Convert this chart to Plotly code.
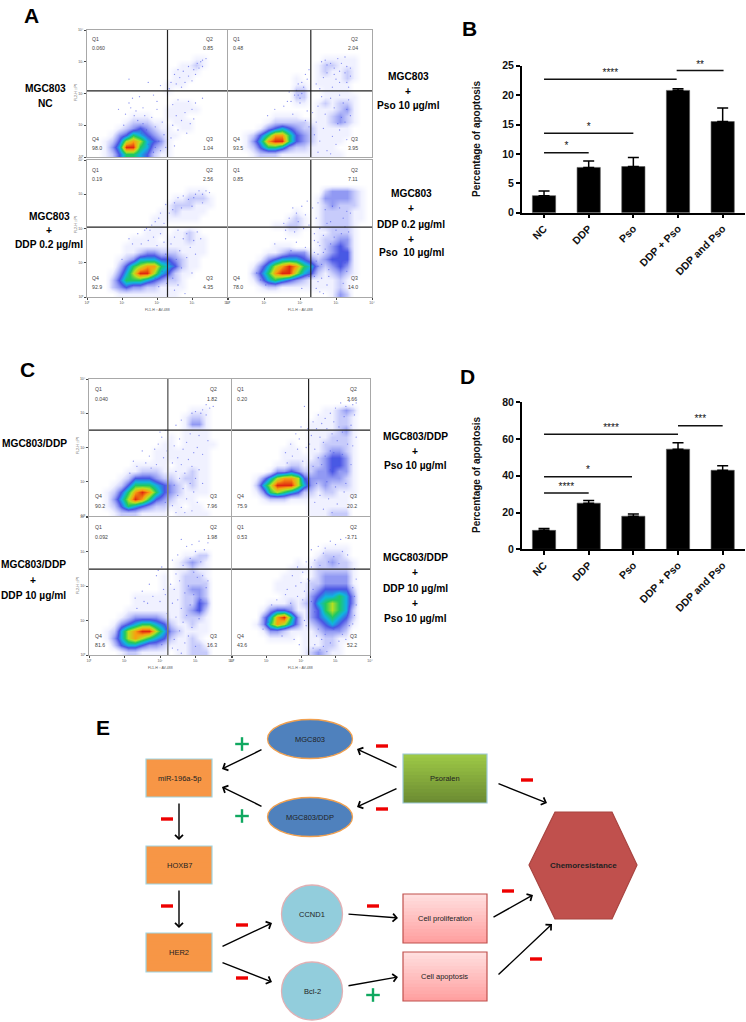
"""
plot.py - composite figure: flow cytometry panels (A, C), apoptosis bars (B, D), pathway diagram (E).
Everything is placed on a 746x1022 page, positions are given in page pixels.
"""

import plotly.graph_objects as go

W, H = 746, 1022

# ---- bar chart data ----
BAR_LABELS = ["NC", "DDP", "Pso", "DDP + Pso", "DDP and Pso"]
bars_b = [2.9, 7.7, 7.85, 20.8, 15.5]
err_b = [0.8, 1.1, 1.55, 0.3, 2.3]
bars_d = [10.3, 25.1, 18.0, 54.5, 43.0]
err_d = [1.0, 1.4, 1.2, 3.5, 2.5]

# significance lines: start, end, height, stars
sig_b_start = [0, 0, 0, 2.97]
sig_b_end = [1, 2, 2.97, 4.02]
sig_b_level = [10.2, 13.5, 22.7, 24.2]
sig_b_stars = ["*", "*", "****", "**"]
sig_d_start = [0, 0, 0, 3.0]
sig_d_end = [1, 1.97, 3.0, 4.0]
sig_d_level = [30.7, 39.5, 62.6, 67.3]
sig_d_stars = ["****", "*", "****", "***"]

# ---- flow cytometry data ----
# quadrant values per plot: Q1, Q2, Q3, Q4
quad_a1 = ["0.060", "0.85", "1.04", "98.0"]
quad_a2 = ["0.48", "2.04", "3.95", "93.5"]
quad_a3 = ["0.19", "2.56", "4.35", "92.9"]
quad_a4 = ["0.85", "7.11", "14.0", "78.0"]
quad_c1 = ["0.040", "1.82", "7.96", "90.2"]
quad_c2 = ["0.20", "3.66", "20.2", "75.9"]
quad_c3 = ["0.092", "1.98", "16.3", "81.6"]
quad_c4 = ["0.53", "3.71", "52.2", "43.6"]

# gate positions on the log axes (decades): x gate, y gate
gate_a_top = [2.3, 2.08]
gate_a_bottom = [2.3, 2.04]
gate_c_top = [2.22, 2.51]
gate_c_bottom = [2.22, 2.49]

# density read by eye on a 20x20 grid, first row is the top of the plot (0 empty, 9 red core)
EMPTY = "00000000000000000000"
density_a1 = [
    EMPTY, EMPTY, EMPTY, EMPTY,
    "00000000000000011000",
    "00000000000001121000",
    "00000000000011110000",
    "00000000000011100000",
    "00000000000111000000",
    "00000000000100000000",
    EMPTY,
    "00000000000011100000",
    "00000000000111110000",
    "00000011100111000000",
    "00000122211011100000",
    "00001234321101100000",
    "00013465432110000000",
    "00124787543100000000",
    "00135996532100000000",
    "00124665421100000000",
]
density_a2 = [
    EMPTY, EMPTY, EMPTY, EMPTY,
    "00000000000001111100",
    "00000000000012211100",
    "00000000000012112100",
    "00000000010011112100",
    "00000000011011111000",
    "00000000022001111000",
    "00000000022001111100",
    "00000000011012122100",
    "00000000000011123100",
    "00000011110011232100",
    "00000122222111232100",
    "00001345432211111000",
    "00124688643211111000",
    "00135899643211110000",
    "00124665322111100000",
    "00012221111111110000",
]
density_a3 = [
    EMPTY, EMPTY, EMPTY, EMPTY,
    "00000000000000111000",
    "00000000000011222100",
    "00000000000122211100",
    "00000000001121111000",
    "00000000011111110000",
    "00000000011000000000",
    "00000000111011210000",
    "00000011110111211000",
    "00000111111111111000",
    "00000112332221111000",
    "00001235554432110000",
    "00002467886542110000",
    "00013579975421100000",
    "00024666543221000000",
    "00023433221111000000",
    "00001111111110000000",
]
density_a4 = [
    EMPTY, EMPTY, EMPTY, EMPTY,
    "00000000000002333210",
    "00000000000013333210",
    "00000000000012322210",
    "00000000010012222110",
    "00000000121012222110",
    "00000011221012222100",
    "00000000110011222100",
    "00000000000012233100",
    "00000011100012343100",
    "00000112333112344100",
    "00001345554323444100",
    "00013578986532343100",
    "00024689975421232100",
    "00013565432111121000",
    "00001221111111121000",
    "00000000000000132000",
]
density_c1 = [
    EMPTY, EMPTY, EMPTY, EMPTY,
    "00000000000000111000",
    "00000000000001221000",
    "00000000000001331000",
    "00000000000001111000",
    "00000000000101111000",
    "00000000001101111100",
    "00000000011111111000",
    "00000000011111111000",
    "00000011111011111000",
    "00000112221111211000",
    "00001244432212211000",
    "00012466654321211000",
    "00124689864321111000",
    "00135798643211100000",
    "00124654322110110000",
    "00012221111011111000",
]
density_c2 = [
    EMPTY, EMPTY, EMPTY, EMPTY,
    "00000000000001123200",
    "00000000000011122100",
    "00000000000111122100",
    "00000000000111123100",
    "00000000000111222100",
    "00000000100112222100",
    "00000001110112332100",
    "00000001111123443100",
    "00000011221223443100",
    "00000133432233433100",
    "00013578874333332100",
    "00025799975323222100",
    "00013676542212211100",
    "00001222111111111000",
    "00000000000111111000",
    "00000000000111222000",
]
density_c3 = [
    EMPTY, EMPTY, EMPTY, EMPTY, EMPTY,
    "00000000000001122000",
    "00000000000012321000",
    "00000000000011211000",
    "00000000001012221000",
    "00000000001012222000",
    "00000000001112332000",
    "00000011111112232000",
    "00000011111112243000",
    "00000111111112342000",
    "00001233332112221000",
    "00013456654211211000",
    "00125789975321111000",
    "00135787654211210000",
    "00024554332111221000",
    "00001221111011222000",
]
density_c4 = [
    EMPTY, EMPTY, EMPTY, EMPTY,
    "00000000000001111000",
    "00000000000012221000",
    "00000000010122322100",
    "00000000111122222100",
    "00000001110123333100",
    "00000011111223333100",
    "00000011111234444200",
    "00000001111345565300",
    "00000111212356765300",
    "00001344311346765200",
    "00003589631345654200",
    "00013687531234543100",
    "00001332111123332000",
    "00000111101112211000",
    "00000000001112210000",
    "00000000001232110000",
]

# single events read by eye outside the dense clouds, in decades
dots_a1_x = [3.4, 3.3, 3.25, 3.15, 3.3, 3.2, 3.05, 2.9, 2.75, 2.6, 2.5, 2.65, 2.9, 3.0, 2.8, 2.55, 2.4, 3.1, 2.7, 2.35,
             2.1, 1.75, 1.2, 3.3, 3.1, 2.9, 2.6, 2.45, 3.0, 2.8, 2.55, 2.7, 3.05, 2.95, 2.45, 2.6, 2.4, 2.85, 2.5,
             1.5, 1.9, 1.2, 1.6, 2.0, 1.35, 1.85, 2.15, 1.95, 2.2, 2.05, 1.75, 2.25, 1.6, 1.4, 2.1, 1.9, 2.0, 0.9, 1.1,
             1.7, 1.8, 1.55, 1.45, 1.25, 1.65, 1.05, 2.3, 1.3, 1.95]
dots_a1_y = [3.1, 3.05, 3.0, 2.95, 2.85, 2.8, 2.75, 2.85, 2.7, 2.75, 2.6, 2.5, 2.55, 2.4, 2.35, 2.3, 2.35, 2.6, 2.2, 2.15,
             2.25, 2.35, 2.45, 1.85, 1.7, 1.75, 1.8, 1.65, 1.5, 1.4, 1.3, 1.15, 1.2, 1.05, 1.0, 0.85, 0.6, 0.75, 0.35,
             1.9, 1.95, 1.7, 1.55, 1.5, 1.3, 1.25, 1.1, 0.95, 0.7, 0.5, 0.4, 0.3, 1.05, 1.45, 0.2, 0.15, 1.75, 1.5, 1.35,
             0.85, 0.65, 0.75, 1.15, 1.55, 1.3, 1.0, 0.55, 1.85, 0.3]
dots_a2_x = [2.6, 2.7, 2.75, 2.85, 2.95, 3.05, 3.15, 3.25, 3.3, 3.4, 2.75, 2.95, 3.1, 3.25, 3.4, 2.65, 3.0, 3.3, 2.45, 2.9,
             3.35, 3.1, 2.55, 2.05, 2.1, 1.9, 2.2, 1.85, 2.0, 1.7, 2.15, 2.25, 1.95, 2.05, 1.75,
             2.6, 2.85, 3.1, 3.35, 2.5, 2.95, 3.2, 3.3, 3.4, 3.15, 2.7, 2.45, 3.05, 3.25, 2.65, 2.4, 2.9, 2.55, 3.0, 2.75, 2.5, 2.85, 3.3,
             2.35, 3.1, 1.3, 1.55, 1.8, 2.0, 2.2, 1.1, 1.95, 2.15, 1.65, 2.25]
dots_a2_y = [3.0, 3.05, 2.9, 2.95, 2.8, 3.1, 2.95, 3.15, 2.85, 2.8, 2.65, 2.6, 2.7, 2.65, 2.55, 2.5, 2.45, 2.35, 2.3, 2.2,
             2.2, 2.35, 2.15, 2.35, 2.2, 2.1, 2.45, 1.95, 1.85, 2.05, 2.6, 2.75, 2.3, 2.0, 1.75,
             1.9, 1.85, 1.95, 1.8, 1.6, 1.55, 1.7, 1.5, 1.3, 1.25, 1.35, 1.1, 1.05, 1.1, 0.9, 0.7, 0.65, 0.5, 0.4, 0.2, 0.15, 0.1, 0.55,
             1.4, 0.85, 1.5, 1.6, 1.35, 1.7, 1.45, 1.3, 1.95, 1.15, 1.75, 0.95]
dots_a3_x = [3.5, 3.4, 3.3, 3.2, 3.1, 3.05, 2.9, 2.75, 2.6, 2.5, 2.45, 3.3, 3.0, 2.7, 2.35, 2.1, 1.95, 2.2, 2.25, 2.05, 1.85, 1.7,
             2.6, 2.85, 3.15, 3.25, 3.05, 2.75, 2.5, 2.95, 2.4, 2.65, 3.1, 2.85, 2.55, 2.4, 2.7, 3.0, 2.45, 2.6, 2.5, 2.8,
             1.2, 1.45, 1.65, 1.9, 2.1, 1.55, 1.75, 2.0, 2.2, 1.3, 1.8, 2.25, 2.15, 1.95, 2.05, 1.0, 2.28, 2.3]
dots_a3_y = [3.05, 3.1, 3.0, 3.1, 3.0, 2.9, 2.85, 2.95, 2.9, 2.75, 2.55, 2.75, 2.65, 2.6, 2.45, 2.45, 2.2, 2.15, 2.7, 2.3, 2.1, 2.0,
             1.95, 1.85, 1.9, 1.7, 1.65, 1.7, 1.75, 1.45, 1.55, 1.35, 1.25, 1.15, 1.1, 0.95, 0.85, 0.7, 0.55, 0.35, 0.2, 0.1,
             1.7, 1.85, 1.95, 1.75, 1.85, 1.55, 1.65, 1.5, 1.6, 1.55, 1.95, 1.25, 0.75, 0.55, 0.3, 1.1, 0.4, 0.08]
dots_a4_x = [2.35, 2.5, 2.7, 2.9, 3.1, 3.3, 2.45, 2.85, 3.2, 3.4, 2.55, 2.75, 3.0, 3.25, 2.4, 2.65, 2.95, 3.15, 3.35, 2.5,
             1.8, 1.9, 2.05, 2.2, 1.7, 1.95, 2.15, 2.25, 1.55, 1.6, 1.85, 2.1,
             2.4, 2.55, 2.7, 2.85, 2.5, 2.65, 2.45, 2.6, 2.8, 3.3, 2.4, 2.5, 2.6, 2.75, 2.45, 2.55, 3.25, 2.65, 2.8, 3.2, 2.4, 2.5,
             1.3, 1.6, 1.9, 2.15, 0.8, 0.9, 1.05, 2.25, 2.05, 1.75]
dots_a4_y = [2.6, 2.75, 2.55, 2.65, 2.6, 2.5, 2.3, 2.2, 2.3, 2.45, 2.0, 2.15, 1.95, 2.05, 1.85, 1.8, 1.75, 1.85, 1.9, 1.6,
             2.6, 2.45, 2.65, 2.8, 2.3, 2.2, 2.4, 2.1, 2.15, 1.95, 1.9, 2.0,
             1.65, 1.5, 1.4, 1.55, 1.25, 1.3, 1.05, 0.95, 0.8, 0.75, 0.6, 0.45, 0.55, 0.35, 0.25, 0.15, 1.0, 0.1, 0.6, 0.4, 1.3, 0.9,
             1.55, 1.7, 1.6, 1.45, 0.7, 0.5, 0.35, 0.6, 0.25, 1.35]
dots_c1_x = [3.5, 3.4, 3.3, 3.2, 3.15, 3.3, 3.0, 2.9, 2.6, 2.45, 2.85, 3.1, 3.35, 2.55, 2.75, 3.05, 2.4, 2.65, 2.95, 3.2, 2.5, 2.8, 2.35,
             2.6, 2.9, 3.1, 2.45, 2.7, 3.0, 2.55, 2.85, 2.4, 2.65, 2.95, 2.5, 2.75, 3.05, 2.35, 2.6, 2.9, 2.45, 3.2, 2.7,
             2.15, 2.05, 1.95, 1.85, 1.7, 1.5, 1.25, 2.1, 1.9, 1.6, 2.2, 1.75, 1.35, 2.0, 2.15, 1.15]
dots_c1_y = [3.2, 3.15, 3.25, 3.1, 3.0, 2.95, 3.05, 3.0, 2.8, 2.65, 2.4, 2.35, 2.2, 2.25, 2.15, 2.0, 2.05, 1.95, 1.85, 1.8, 1.7, 1.65, 1.55,
             1.5, 1.45, 1.35, 1.3, 1.25, 1.1, 1.1, 0.95, 0.9, 0.8, 0.7, 0.6, 0.5, 0.4, 0.3, 0.25, 0.15, 0.1, 0.95, 0.1,
             2.5, 2.3, 2.1, 1.95, 1.75, 1.9, 1.6, 1.7, 1.5, 1.55, 1.9, 1.4, 1.45, 2.45, 0.4, 1.25]
dots_c2_x = [3.6, 3.5, 3.4, 3.3, 3.15, 3.0, 2.85, 2.7, 2.5, 2.35, 3.55, 3.25, 2.95, 2.6, 2.45, 3.45, 3.1, 2.75, 2.3, 2.55, 2.9, 3.2,
             2.25, 3.6, 3.5, 2.4, 2.65, 2.85, 3.05, 3.35, 2.5, 2.7, 2.95, 3.2, 3.45, 2.35, 2.6, 2.85, 3.1, 3.3, 2.45, 2.75, 3.0, 3.25, 2.55, 2.8, 2.4, 3.05, 2.65, 2.9,
             2.1, 2.0, 1.85, 1.7, 1.55, 2.15, 1.95, 1.75, 2.05, 2.2, 1.6, 1.9]
dots_c2_y = [3.3, 3.25, 3.35, 3.2, 3.3, 3.15, 3.0, 2.85, 2.95, 2.75, 2.95, 2.9, 2.75, 2.7, 2.55, 2.65, 2.6, 2.55, 2.35, 2.3, 2.4, 2.45,
             2.1, 2.3, 2.05, 1.95, 2.15, 1.9, 2.2, 2.1, 1.7, 1.75, 1.85, 1.8, 1.5, 1.45, 1.5, 1.35, 1.6, 0.95, 0.95, 1.0, 0.85, 0.7, 0.6, 0.5, 0.4, 0.35, 0.2, 0.1,
             3.2, 2.6, 2.4, 2.1, 1.85, 2.0, 2.25, 1.75, 1.6, 2.55, 1.55, 1.95]
dots_c3_x = [3.35, 3.1, 2.9, 2.75, 2.6, 3.25, 3.0, 2.5, 2.85, 3.15, 2.35, 2.65, 2.45, 2.95, 3.2, 3.35, 2.3, 2.55, 2.8, 3.05, 3.3,
             2.4, 2.7, 2.95, 3.15, 2.5, 2.85, 3.05, 2.35, 2.6, 2.75, 3.1, 2.45, 2.65, 2.9, 2.55, 2.8, 2.4, 2.7, 3.0, 2.5, 2.35, 2.6,
             1.3, 1.5, 1.7, 1.9, 2.1, 1.55, 1.8, 2.0, 2.15, 1.35, 1.65, 1.95, 2.05, 2.2, 2.15, 2.05]
dots_c3_y = [3.25, 3.3, 3.2, 3.15, 3.35, 3.05, 3.0, 2.9, 2.8, 2.7, 2.75, 2.6, 2.35, 2.4, 2.3, 2.15, 2.05, 2.15, 2.0, 2.25, 1.95,
             1.9, 1.8, 1.75, 1.6, 1.6, 1.45, 1.3, 1.5, 1.35, 1.15, 1.05, 1.1, 0.95, 0.8, 0.7, 0.55, 0.45, 0.35, 0.25, 0.15, 0.2, 0.05,
             1.65, 1.85, 2.05, 2.3, 1.9, 1.55, 1.7, 1.55, 1.75, 1.35, 1.5, 2.45, 2.55, 1.2, 0.75, 0.3]
dots_c4_x = [3.3, 3.15, 3.0, 2.85, 2.7, 2.5, 2.3, 3.35, 3.2, 2.95, 2.65, 2.4, 2.55, 2.8, 3.1, 2.3, 2.15, 2.05, 1.9, 1.75, 2.2, 2.0, 1.85, 2.1, 1.6,
             3.55, 3.6, 3.5, 3.55, 3.6, 2.4, 2.35, 2.3, 2.25, 3.55, 3.5, 2.5, 2.7, 2.95, 3.2, 3.4, 2.45, 2.6, 2.85, 3.1, 3.3, 2.35, 2.55, 2.75,
             1.55, 1.3, 1.15, 1.05, 1.7, 1.9, 2.05, 1.45, 1.8, 2.15, 0.9, 1.95, 2.1, 2.4, 2.65]
dots_c4_y = [3.4, 3.35, 3.2, 3.3, 3.1, 3.15, 3.05, 2.9, 3.0, 2.85, 2.95, 2.75, 2.6, 2.7, 2.65, 2.55, 2.7, 2.4, 2.55, 2.3, 2.2, 2.1, 2.0, 1.85, 1.9,
             2.5, 2.2, 1.95, 1.7, 1.45, 1.25, 1.9, 1.55, 2.15, 1.15, 0.9, 0.75, 0.6, 0.75, 0.6, 0.85, 0.55, 0.45, 0.35, 0.4, 0.45, 0.2, 0.15, 0.1,
             1.75, 1.6, 1.45, 0.95, 1.5, 1.7, 1.6, 0.55, 0.45, 0.85, 0.75, 0.3, 1.0, 0.3, 0.25]

TICK_TEXT = ["10⁰", "10¹", "10²", "10³", "10⁴"]
DENSITY_COLORS = [
    [0.0, "#ffffff"], [0.11, "#f0f1ff"], [0.22, "#c8ccfb"], [0.33, "#939bf3"],
    [0.44, "#4a55e4"], [0.56, "#10b4e0"], [0.67, "#20c860"], [0.78, "#b8e020"],
    [0.89, "#f8a010"], [1.0, "#e02810"],
]

FONT = "Liberation Sans"

fig = go.Figure()
shapes = []
annotations = []
layout_axes = {}
axis_count = 0


def fx(x):
    return x / W


def fy(y):
    return 1 - y / H


def text(x, y, s, size=10, bold=False, color="#000000", angle=0, anchor="center"):
    annotations.append(dict(
        text=f"<b>{s}</b>" if bold else s,
        x=fx(x), y=fy(y), xref="paper", yref="paper",
        xanchor=anchor, yanchor="middle", showarrow=False, textangle=angle,
        font=dict(size=size, color=color, family=FONT),
    ))


def new_axes(x0, x1, y0, y1):
    """Creates a pair of axes on the given page pixels and returns the trace references."""
    global axis_count
    axis_count += 1
    n = axis_count
    xname = "xaxis" if n == 1 else f"xaxis{n}"
    yname = "yaxis" if n == 1 else f"yaxis{n}"
    xref = "x" if n == 1 else f"x{n}"
    yref = "y" if n == 1 else f"y{n}"
    layout_axes[xname] = dict(domain=[fx(x0), fx(x1)], anchor=yref)
    layout_axes[yname] = dict(domain=[fy(y1), fy(y0)], anchor=xref)
    return xname, yname, xref, yref


def flow_plot(box, density, dots, gate, quads, label_x, label_y, show_x, show_y, gate_line):
    x0, x1, y0, y1 = box
    xname, yname, xref, yref = new_axes(x0, x1, y0, y1)
    n = len(density)
    centers = [(i + 0.5) * 4 / n for i in range(n)]
    z = [[int(c) for c in row] for row in reversed(density)]
    fig.add_trace(go.Heatmap(
        x=centers, y=centers, z=z, zmin=0, zmax=9, zsmooth="best",
        colorscale=DENSITY_COLORS, showscale=False, hoverinfo="skip",
        xaxis=xref, yaxis=yref,
    ))
    fig.add_trace(go.Scatter(x=dots[0], y=dots[1], mode="markers", hoverinfo="skip",
                             marker=dict(size=1.3, color="#4a56e8", opacity=0.65),
                             xaxis=xref, yaxis=yref))
    # gates
    fig.add_trace(go.Scatter(x=[gate[0], gate[0]], y=[0, 4], mode="lines",
                             line=gate_line, xaxis=xref, yaxis=yref, hoverinfo="skip"))
    fig.add_trace(go.Scatter(x=[0, 4], y=[gate[1], gate[1]], mode="lines",
                             line=dict(color="#222222", width=1.2), xaxis=xref, yaxis=yref,
                             hoverinfo="skip"))
    common = dict(
        range=[0, 4], showgrid=False, zeroline=False, showline=True, mirror=True,
        linecolor="#a8a8a8", linewidth=1, ticklen=2, tickwidth=0.6, tickcolor="#444444",
        tickvals=[0, 1, 2, 3, 4], ticktext=TICK_TEXT,
        tickfont=dict(size=3.5, color="#555555", family=FONT),
    )
    layout_axes[xname].update(common, ticks="outside" if show_x else "", showticklabels=show_x)
    layout_axes[yname].update(common, ticks="outside" if show_y else "", showticklabels=show_y)
    # quadrant labels
    lx0, lx1 = label_x
    ly0, ly1, ly2, ly3 = label_y
    for s, x, y in [("Q1", lx0, ly0), (quads[0], lx0, ly1), ("Q2", lx1, ly0), (quads[1], lx1, ly1),
                    ("Q4", lx0, ly2), (quads[3], lx0, ly3), ("Q3", lx1, ly2), (quads[2], lx1, ly3)]:
        text(x, y, s, size=5.2, color="#444444", anchor="left" if x == lx0 else "right")


def bar_plot(box, values, errors, y_max, y_step, sig_start, sig_end, sig_level, sig_stars, star_dy):
    x0, x1, y0, y1 = box
    xname, yname, xref, yref = new_axes(x0, x1, y0, y1)
    fig.add_trace(go.Bar(
        x=list(range(len(values))), y=values, width=0.52,
        marker=dict(color="#000000", line=dict(color="#555555", width=0.6)),
        error_y=dict(type="data", symmetric=False, array=errors, arrayminus=[0] * len(errors),
                     color="#000000", thickness=1.5, width=5.5),
        xaxis=xref, yaxis=yref,
    ))
    for s, e, lev in zip(sig_start, sig_end, sig_level):
        fig.add_trace(go.Scatter(x=[s, e], y=[lev, lev], mode="lines",
                                 line=dict(color="#111111", width=1.5), xaxis=xref, yaxis=yref))
    # the stars of the top line sit right under the axis end, text points out of range get dropped
    fig.add_trace(go.Scatter(
        x=[(s + e) / 2 for s, e in zip(sig_start, sig_end)],
        y=[min(lev + star_dy, y_max * 0.999) for lev in sig_level],
        text=sig_stars, mode="text", textposition="middle center", cliponaxis=False,
        textfont=dict(size=10, color="#111111", family=FONT), xaxis=xref, yaxis=yref,
    ))
    axis_common = dict(showgrid=False, zeroline=False, showline=True, linecolor="#000000", linewidth=1.5,
                       ticks="outside", ticklen=4, tickwidth=1.5, tickcolor="#000000")
    layout_axes[xname].update(axis_common, range=[-0.5, 4.5], tickvals=list(range(5)), ticktext=BAR_LABELS,
                              tickangle=-45, tickfont=dict(size=10.5, color="#111111", family=FONT, weight="bold"))
    layout_axes[yname].update(axis_common, range=[0, y_max], dtick=y_step,
                              tickfont=dict(size=10.5, color="#111111", family=FONT, weight="bold"))


def flow_block(boxes, all_density, all_dots, all_quads, gates, label_xs, label_ys, left_gate):
    dark = dict(color="#222222", width=1.2)
    for i in range(4):
        gate = gates[0] if i < 2 else gates[1]
        flow_plot(boxes[i], all_density[i], all_dots[i], gate, all_quads[i], label_xs[i % 2],
                  label_ys[0] if i < 2 else label_ys[1], show_x=i >= 2, show_y=i % 2 == 0,
                  gate_line=left_gate if i % 2 == 0 else dark)


# ---- panels A and C ----
flow_block(
    [(87, 227, 30, 157), (228, 372, 30, 157), (87, 227, 160, 297), (228, 372, 160, 297)],
    [density_a1, density_a2, density_a3, density_a4],
    [(dots_a1_x, dots_a1_y), (dots_a2_x, dots_a2_y), (dots_a3_x, dots_a3_y), (dots_a4_x, dots_a4_y)],
    [quad_a1, quad_a2, quad_a3, quad_a4],
    [gate_a_top, gate_a_bottom],
    [(90, 215), (231, 360)],
    [(39, 48, 139, 148), (170, 179, 278, 287)],
    dict(color="#222222", width=1.2),
)
flow_block(
    [(89, 231, 379, 516), (232, 370, 379, 516), (89, 231, 517, 655), (232, 370, 517, 655)],
    [density_c1, density_c2, density_c3, density_c4],
    [(dots_c1_x, dots_c1_y), (dots_c2_x, dots_c2_y), (dots_c3_x, dots_c3_y), (dots_c4_x, dots_c4_y)],
    [quad_c1, quad_c2, quad_c3, quad_c4],
    [gate_c_top, gate_c_bottom],
    [(93, 219), (235, 359)],
    [(389, 399, 496, 506), (527, 537, 636, 645)],
    dict(color="#777777", width=1.6),
)

for x, y in [(157, 310), (300, 310), (160, 668), (300, 668)]:
    text(x, y, "FL1-H :: AV-488", size=3.5, color="#555555")
for x, y in [(76, 93), (76, 225), (78, 446), (78, 586)]:
    text(x, y, "FL2-H :: PI", size=3.5, color="#555555", angle=-90)

# ---- side labels of the flow plots ----
side_labels = [
    (45, [(89, "MGC803"), (103, "NC")]),
    (408, [(76, "MGC803"), (91, "+"), (106, "Pso 10 µg/ml")]),
    (49, [(216, "MGC803"), (230, "+"), (245, "DDP 0.2 µg/ml")]),
    (411, [(194, "MGC803"), (209, "+"), (224, "DDP 0.2 µg/ml"), (239, "+"), (253, "Pso  10 µg/ml")]),
    (34, [(443, "MGC803/DDP")]),
    (415, [(436, "MGC803/DDP"), (451, "+"), (466, "Pso 10 µg/ml")]),
    (33, [(564, "MGC803/DDP"), (580, "+"), (595, "DDP 10 µg/ml")]),
    (415, [(557, "MGC803/DDP"), (572, "+"), (588, "DDP 10 µg/ml"), (603, "+"), (618, "Pso 10 µg/ml")]),
]
for x, lines in side_labels:
    for y, s in lines:
        text(x, y, s, size=10.2, bold=True)

# ---- panels B and D ----
bar_plot((521.7, 745, 65.7, 212.7), bars_b, err_b, 25, 5,
         sig_b_start, sig_b_end, sig_b_level, sig_b_stars, 1.0)
bar_plot((521.7, 745, 402.3, 549.3), bars_d, err_d, 80, 20,
         sig_d_start, sig_d_end, sig_d_level, sig_d_stars, 3.2)
text(476, 139, "Percentage of apoptosis", size=10, bold=True, color="#111111", angle=-90)
text(476, 475, "Percentage of apoptosis", size=10, bold=True, color="#111111", angle=-90)

# ---- panel letters ----
for x, y, s in [(31, 15, "A"), (469, 28, "B"), (27, 370, "C"), (467, 377, "D"), (103, 727, "E")]:
    text(x, y, s, size=21, bold=True)


# ---- panel E: pathway diagram ----
def box(x0, y0, x1, y1, label, top, bottom, border, size=7.5):
    # vertical gradient: each strip runs down to the bottom of the box so no seams show
    strips = 14
    r0, g0, b0 = top
    r1, g1, b1 = bottom
    for i in range(strips):
        t = i / (strips - 1)
        color = f"rgb({r0 + (r1 - r0) * t:.0f},{g0 + (g1 - g0) * t:.0f},{b0 + (b1 - b0) * t:.0f})"
        shapes.append(dict(type="rect", xref="paper", yref="paper", x0=fx(x0),
                           x1=fx(x1), y0=fy(y0 + (y1 - y0) * i / strips), y1=fy(y1),
                           fillcolor=color, line=dict(width=0)))
    shapes.append(dict(type="rect", xref="paper", yref="paper", x0=fx(x0), x1=fx(x1), y0=fy(y0), y1=fy(y1),
                       line=dict(color=border, width=1.2)))
    text((x0 + x1) / 2, (y0 + y1) / 2, label, size=size, color="#222222")


def oval(cx, cy, rx, ry, label, fill, border):
    shapes.append(dict(type="circle", xref="paper", yref="paper", x0=fx(cx - rx), x1=fx(cx + rx),
                       y0=fy(cy - ry), y1=fy(cy + ry), fillcolor=fill, line=dict(color=border, width=1.3)))
    text(cx, cy, label, size=7.5, color="#222222")


def arrow(x0, y0, x1, y1):
    annotations.append(dict(
        x=fx(x1), y=fy(y1), xref="paper", yref="paper", ax=x0 - x1, ay=y0 - y1, text="",
        showarrow=True, arrowhead=4, arrowsize=1.1, arrowwidth=1.4, arrowcolor="#000000",
    ))


def minus(x, y):
    shapes.append(dict(type="rect", xref="paper", yref="paper", x0=fx(x - 6), x1=fx(x + 6),
                       y0=fy(y - 1.7), y1=fy(y + 1.7), fillcolor="#ee0000", line=dict(width=0)))


def plus(x, y):
    for dx, dy in [(6.8, 1.2), (1.2, 6.8)]:
        shapes.append(dict(type="rect", xref="paper", yref="paper", x0=fx(x - dx), x1=fx(x + dx),
                           y0=fy(y - dy), y1=fy(y + dy), fillcolor="#10a860", line=dict(width=0)))


ORANGE = (247, 150, 70)
for y0, y1, label in [(759, 797, "miR-196a-5p"), (846, 884, "HOXB7"), (933, 972, "HER2")]:
    box(146, y0, 212, y1, label, ORANGE, ORANGE, "#a0d4e0")
box(403, 754, 487, 803, "Psoralen", (157, 200, 70), (108, 140, 50), "#9cc8d8")
box(403, 894, 487, 943, "Cell proliferation", (255, 222, 222), (255, 160, 160), "#c0504d")
box(403, 952, 487, 1001, "Cell apoptosis", (255, 222, 222), (255, 160, 160), "#c0504d")

oval(310, 739, 42.5, 19.5, "MGC803", "#4f81bd", "#f0a050")
oval(310, 817, 42.5, 19.5, "MGC803/DDP", "#4f81bd", "#f0a050")
oval(312, 914, 30.5, 29, "CCND1", "#92cddc", "#e0b0b4")
oval(312, 991, 30.5, 29, "Bcl-2", "#92cddc", "#e0b0b4")

hexagon = [(555, 812), (612, 812), (637, 865), (612, 919), (555, 919), (529, 865)]
hex_path = "M " + " L ".join(f"{fx(x):.5f} {fy(y):.5f}" for x, y in hexagon) + " Z"
shapes.append(dict(type="path", xref="paper", yref="paper", path=hex_path, fillcolor="#c0504d",
                   line=dict(color="#a84440", width=1.2)))
text(583, 865, "Chemoresistance", size=8, bold=True, color="#222222")

arrows = [
    (263, 749, 222, 769), (263, 807, 222, 787), (398, 768, 357, 749), (398, 788, 357, 807),
    (497, 783, 547, 803), (179, 802, 179, 840), (179, 889, 179, 928),
    (221, 947, 272, 923), (221, 962, 272, 982), (347, 914, 398, 918), (347, 986, 398, 977),
    (492, 918, 533, 895), (497, 976, 552, 924),
]
for a in arrows:
    arrow(*a)
for x, y in [(382, 746), (382, 809), (527, 780), (167, 819), (167, 906), (242, 925), (242, 978),
             (373, 906), (508, 891), (536, 959)]:
    minus(x, y)
for x, y in [(242, 744), (242, 816), (373, 995)]:
    plus(x, y)

fig.update_layout(
    width=W, height=H, margin=dict(l=0, r=0, t=0, b=0, autoexpand=False), autosize=False,
    paper_bgcolor="#ffffff", plot_bgcolor="rgba(0,0,0,0)", showlegend=False,
    shapes=shapes, annotations=annotations, **layout_axes,
)

fig.write_html("out.html", config={"displayModeBar": False},
               post_script="document.body.style.margin='0';")
